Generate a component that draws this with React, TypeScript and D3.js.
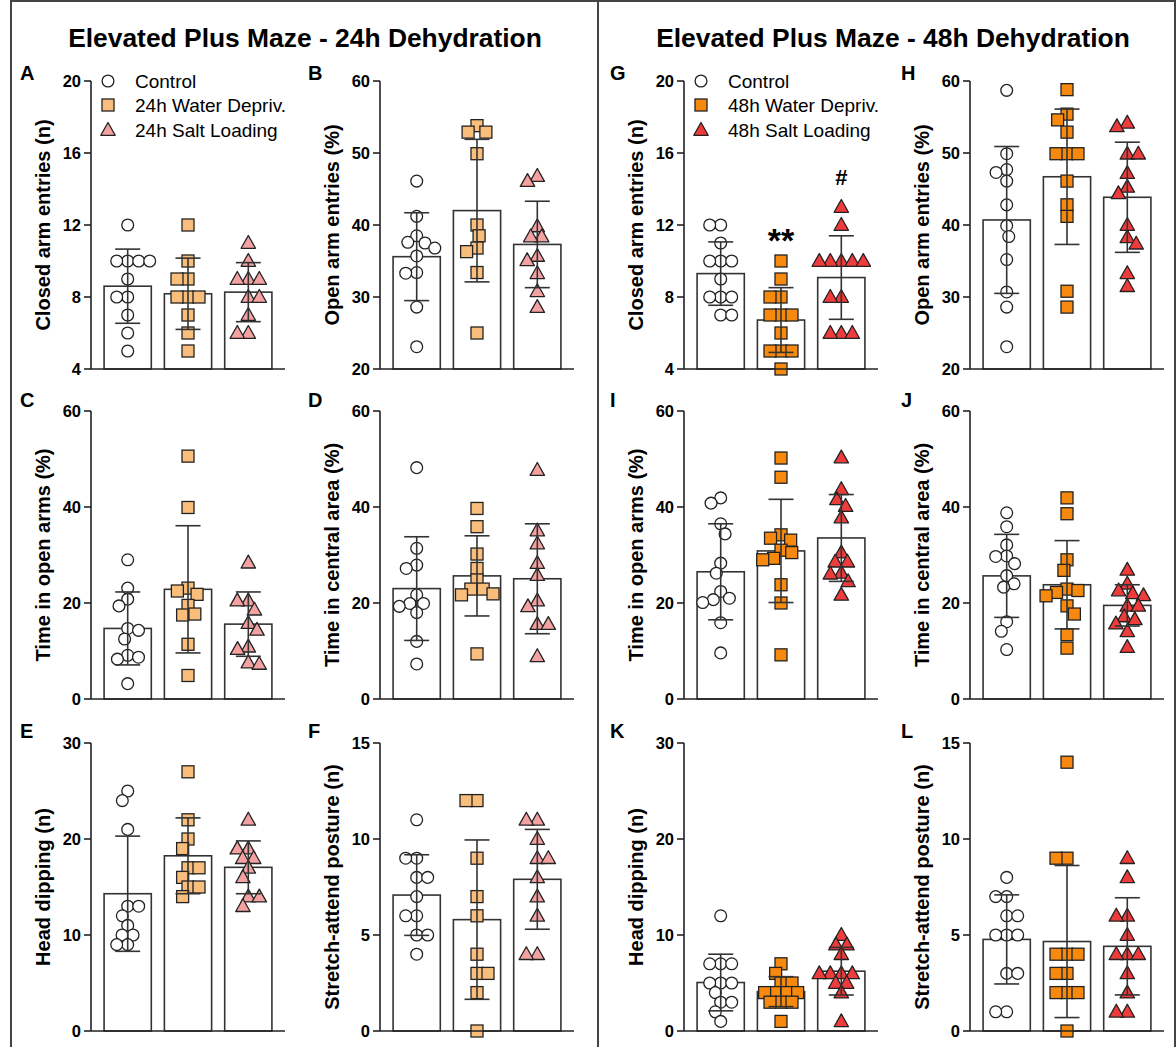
import React from "react";
import * as d3 from "d3";

const FONT = "'Liberation Sans', Arial, Helvetica, sans-serif";

const titles = ["Elevated Plus Maze - 24h Dehydration", "Elevated Plus Maze - 48h Dehydration"];
const legend24 = ["Control", "24h Water Depriv.", "24h Salt Loading"];
const legend48 = ["Control", "48h Water Depriv.", "48h Salt Loading"];
const colors24 = ["#ffffff", "#F9BE7C", "#F3A1A1"];
const colors48 = ["#ffffff", "#F7890F", "#EE3B3B"];

const yLabels = [
  "Closed arm entries (n)",
  "Open arm entries (%)",
  "Time in open arms (%)",
  "Time in central area (%)",
  "Head dipping (n)",
  "Stretch-attend posture (n)",
];

const ticksClosed = [4, 8, 12, 16, 20];
const ticksOpenEntries = [20, 30, 40, 50, 60];
const ticksPct = [0, 20, 40, 60];
const ticksHead = [0, 10, 20, 30];
const ticksStretch = [0, 5, 10, 15];

// ---- 24h ----
const A_points = [
  [12, 10, 10, 10, 10, 9, 8, 8, 7, 6, 5],
  [12, 10, 9, 9, 8, 8, 8, 7, 6, 5],
  [11, 10, 9, 9, 9, 8, 8, 7, 6, 6],
];
const A_mean = [8.6, 8.18, 8.27];
const A_sd = [2.06, 1.98, 1.64];

const B_points = [
  [46.1, 41.2, 38.5, 37.6, 37.5, 36.8, 35.7, 33.4, 33.3, 28.6, 23.1],
  [53.8, 52.9, 52.9, 49.9, 40.0, 38.5, 36.8, 36.3, 33.4, 25.0],
  [46.8, 46.1, 39.8, 38.4, 38.4, 35.7, 35.1, 33.3, 30.8, 28.6],
];
const B_mean = [35.6, 42.0, 37.3];
const B_sd = [6.1, 9.9, 6.0];

const C_points = [
  [29.0, 23.1, 20.8, 19.4, 14.7, 14.3, 12.5, 9.1, 8.7, 8.3, 3.2],
  [50.6, 39.9, 23.1, 22.5, 21.8, 19.5, 17.7, 17.5, 11.4, 4.9],
  [28.4, 20.5, 20.5, 18.6, 15.8, 14.4, 10.9, 10.4, 7.6, 7.3],
];
const C_mean = [14.7, 22.85, 15.6];
const C_sd = [7.6, 13.25, 6.7];

const D_points = [
  [48.2, 31.4, 27.9, 27.2, 21.7, 19.9, 19.9, 19.3, 18.0, 12.0, 7.3],
  [39.7, 35.9, 30.2, 27.2, 24.8, 22.9, 22.9, 21.9, 21.7, 9.4],
  [47.7, 35.1, 32.4, 28.3, 25.8, 20.5, 19.3, 15.6, 15.6, 8.9],
];
const D_mean = [23.0, 25.65, 25.05];
const D_sd = [10.8, 8.35, 11.45];

const E_points = [
  [25, 24, 21, 13, 13, 12, 11, 10, 10, 9, 9],
  [27, 22, 20, 19, 17, 17, 16, 15, 15, 14],
  [22, 19, 19, 18, 18, 17, 16, 14, 14, 13],
];
const E_mean = [14.3, 18.25, 17.05];
const E_sd = [6.0, 3.95, 2.75];

const F_points = [
  [11, 9, 9, 8, 8, 7, 6, 6, 5, 5, 4],
  [12, 12, 9, 7, 6, 4, 3, 3, 2, 0],
  [11, 11, 10, 9, 9, 8, 7, 6, 4, 4],
];
const F_mean = [7.08, 5.8, 7.9];
const F_sd = [2.1, 4.15, 2.6];

// ---- 48h ----
const G_points = [
  [12, 12, 11, 10, 10, 10, 9, 8, 8, 8, 7, 7],
  [10, 9, 8, 8, 7, 7, 7, 6, 5, 5, 5, 4],
  [13, 12, 10, 10, 10, 10, 10, 8, 8, 6, 6, 6],
];
const G_mean = [9.3, 6.72, 9.08];
const G_sd = [1.76, 1.8, 2.32];
const G_annot = ["", "**", "#"];
const G_annotAt = [0, 10.5, 14.2];

const H_points = [
  [58.7, 49.9, 47.7, 47.3, 46.1, 42.8, 39.9, 38.4, 35.2, 30.7, 28.6, 23.1],
  [58.8, 55.4, 54.6, 52.9, 49.9, 49.9, 49.9, 46.1, 42.8, 41.2, 30.8, 28.6],
  [54.2, 53.7, 49.9, 49.9, 47.2, 45.3, 44.4, 40.0, 38.3, 37.4, 33.3, 31.5],
];
const H_mean = [40.7, 46.7, 43.85];
const H_sd = [10.2, 9.4, 7.65];

const I_points = [
  [41.9, 40.8, 36.5, 34.4, 28.3, 26.2, 22.4, 21.0, 20.7, 20.1, 15.9, 9.6],
  [50.2, 46.2, 34.2, 33.5, 33.1, 31.0, 30.5, 29.3, 29.0, 23.8, 20.0, 9.2],
  [50.3, 43.7, 41.6, 40.2, 37.8, 30.5, 28.6, 28.6, 26.3, 26.1, 24.5, 21.7],
];
const I_mean = [26.5, 30.85, 33.55];
const I_sd = [10.0, 10.75, 9.05];

const J_points = [
  [38.8, 35.9, 32.1, 29.8, 29.7, 28.2, 25.7, 24.0, 23.3, 16.1, 14.1, 10.3],
  [41.9, 38.6, 29.0, 26.8, 22.9, 22.6, 22.2, 21.5, 19.4, 17.7, 13.4, 10.6],
  [26.9, 24.0, 22.6, 22.0, 21.6, 19.4, 19.4, 17.2, 16.6, 15.7, 14.1, 10.8],
];
const J_mean = [25.65, 23.8, 19.5];
const J_sd = [8.65, 9.2, 4.3];

const K_points = [
  [12, 7, 7, 7, 5, 5, 5, 4, 3, 3, 2, 1],
  [7, 6, 5, 5, 4, 4, 4, 4, 3, 3, 3, 1],
  [10, 9, 9, 8, 6, 6, 6, 6, 5, 5, 4, 1],
];
const K_mean = [5.05, 4.1, 6.23];
const K_sd = [2.95, 1.56, 2.48];

const L_points = [
  [8, 7, 7, 6, 6, 5, 5, 5, 3, 3, 1, 1],
  [14, 9, 9, 4, 4, 4, 3, 3, 2, 2, 2, 0],
  [9, 8, 6, 6, 5, 4, 4, 4, 3, 2, 1, 1],
];
const L_mean = [4.77, 4.66, 4.41];
const L_sd = [2.32, 3.96, 2.53];

// ---- layout ----
const ROWS = [
  { top: 81, bottom: 369, letterY: 80 },
  { top: 411, bottom: 699, letterY: 407 },
  { top: 743, bottom: 1031, letterY: 738 },
];
const COL_AXIS = [91, 380, 684, 970];
const COL_LETTER = [20, 308, 610, 901];
const AXIS_LEN = 194;
const SWARM_D = 11;

type Spec = {
  letter: string;
  col: number;
  row: number;
  ylabel: string;
  domain: [number, number];
  ticks: number[];
  points: number[][];
  means: number[];
  sds: number[];
  colors: string[];
  legend?: string[];
  annot?: string[];
  annotAt?: number[];
};

const specs: Spec[] = [
  { letter: "A", col: 0, row: 0, ylabel: yLabels[0], domain: [4, 20], ticks: ticksClosed, points: A_points, means: A_mean, sds: A_sd, colors: colors24, legend: legend24 },
  { letter: "B", col: 1, row: 0, ylabel: yLabels[1], domain: [20, 60], ticks: ticksOpenEntries, points: B_points, means: B_mean, sds: B_sd, colors: colors24 },
  { letter: "C", col: 0, row: 1, ylabel: yLabels[2], domain: [0, 60], ticks: ticksPct, points: C_points, means: C_mean, sds: C_sd, colors: colors24 },
  { letter: "D", col: 1, row: 1, ylabel: yLabels[3], domain: [0, 60], ticks: ticksPct, points: D_points, means: D_mean, sds: D_sd, colors: colors24 },
  { letter: "E", col: 0, row: 2, ylabel: yLabels[4], domain: [0, 30], ticks: ticksHead, points: E_points, means: E_mean, sds: E_sd, colors: colors24 },
  { letter: "F", col: 1, row: 2, ylabel: yLabels[5], domain: [0, 15], ticks: ticksStretch, points: F_points, means: F_mean, sds: F_sd, colors: colors24 },
  { letter: "G", col: 2, row: 0, ylabel: yLabels[0], domain: [4, 20], ticks: ticksClosed, points: G_points, means: G_mean, sds: G_sd, colors: colors48, legend: legend48, annot: G_annot, annotAt: G_annotAt },
  { letter: "H", col: 3, row: 0, ylabel: yLabels[1], domain: [20, 60], ticks: ticksOpenEntries, points: H_points, means: H_mean, sds: H_sd, colors: colors48 },
  { letter: "I", col: 2, row: 1, ylabel: yLabels[2], domain: [0, 60], ticks: ticksPct, points: I_points, means: I_mean, sds: I_sd, colors: colors48 },
  { letter: "J", col: 3, row: 1, ylabel: yLabels[3], domain: [0, 60], ticks: ticksPct, points: J_points, means: J_mean, sds: J_sd, colors: colors48 },
  { letter: "K", col: 2, row: 2, ylabel: yLabels[4], domain: [0, 30], ticks: ticksHead, points: K_points, means: K_mean, sds: K_sd, colors: colors48 },
  { letter: "L", col: 3, row: 2, ylabel: yLabels[5], domain: [0, 15], ticks: ticksStretch, points: L_points, means: L_mean, sds: L_sd, colors: colors48 },
];

function swarm(ys: number[], D: number): number[] {
  const placed: { x: number; y: number }[] = [];
  const out: number[] = [];
  let flip = -1;
  for (const yy of ys) {
    const intervals: [number, number][] = [];
    for (const p of placed) {
      const dy = Math.abs(p.y - yy);
      if (dy < D) {
        const h = Math.sqrt(D * D - dy * dy);
        intervals.push([p.x - h, p.x + h]);
      }
    }
    const cands = [0];
    intervals.forEach(([a, b]) => cands.push(a, b));
    const valid = cands.filter((c) => intervals.every(([a, b]) => c <= a + 1e-6 || c >= b - 1e-6));
    valid.sort((a, b) => Math.abs(a) - Math.abs(b));
    let best = valid[0];
    const ties = valid.filter((v) => Math.abs(Math.abs(v) - Math.abs(best)) < 0.5 && v !== best);
    if (ties.length > 0 && best !== 0) {
      const alt = [best, ...ties].find((v) => Math.sign(v) === flip);
      if (alt !== undefined) best = alt;
      flip = -flip;
    }
    placed.push({ x: best, y: yy });
    out.push(best);
  }
  return out;
}

const STROKE = "#222";

function Marker({ kind, x, y, fill }: { kind: number; x: number; y: number; fill: string }) {
  if (kind === 0) return <circle cx={x} cy={y} r={5.9} fill={fill} stroke={STROKE} strokeWidth={1.3} />;
  if (kind === 1) return <rect x={x - 6} y={y - 6} width={12} height={12} fill={fill} stroke={STROKE} strokeWidth={1.3} />;
  const tri = d3.line()([
    [x, y - 7.5],
    [x + 7.2, y + 5.3],
    [x - 7.2, y + 5.3],
  ]) + "Z";
  return <path d={tri} fill={fill} stroke={STROKE} strokeWidth={1.3} strokeLinejoin="round" />;
}

function Panel({ s }: { s: Spec }) {
  const row = ROWS[s.row];
  const ax = COL_AXIS[s.col];
  const y = d3.scaleLinear().domain(s.domain).range([row.bottom, row.top]);
  const x = d3.scaleBand<number>().domain([0, 1, 2]).range([ax, ax + AXIS_LEN]).paddingInner(0.217).paddingOuter(0.217);
  const bw = x.bandwidth();
  const midY = (row.top + row.bottom) / 2;
  return (
    <g>
      <text x={COL_LETTER[s.col]} y={row.letterY} fontSize={20} fontWeight="bold" fontFamily={FONT} fill="#000">
        {s.letter}
      </text>
      {s.means.map((m, i) => (
        <rect key={"b" + i} x={x(i)!} y={y(m)} width={bw} height={y(s.domain[0]) - y(m)} fill="#fff" stroke="#333" strokeWidth={1.6} />
      ))}
      {s.points.map((vals, i) => {
        const ys = vals.map((v) => y(v));
        const xs = swarm(ys, SWARM_D);
        const cx = x(i)! + bw / 2;
        return (
          <g key={"p" + i}>
            {vals.map((v, j) => (
              <Marker key={j} kind={i} x={cx + xs[j]} y={ys[j]} fill={s.colors[i]} />
            ))}
          </g>
        );
      })}
      {s.means.map((m, i) => {
        const cx = x(i)! + bw / 2;
        const top = y(m + s.sds[i]);
        const bot = y(Math.max(s.domain[0], m - s.sds[i]));
        return (
          <g key={"e" + i} stroke="#333" strokeWidth={1.6}>
            <line x1={cx} x2={cx} y1={top} y2={bot} />
            <line x1={cx - 12.5} x2={cx + 12.5} y1={top} y2={top} />
            <line x1={cx - 12.5} x2={cx + 12.5} y1={bot} y2={bot} />
          </g>
        );
      })}
      <line x1={ax} x2={ax} y1={row.top} y2={row.bottom} stroke={STROKE} strokeWidth={1.6} />
      <line x1={ax} x2={ax + AXIS_LEN} y1={row.bottom} y2={row.bottom} stroke={STROKE} strokeWidth={1.6} />
      {s.ticks.map((t) => (
        <g key={"t" + t}>
          <line x1={ax - 7} x2={ax} y1={y(t)} y2={y(t)} stroke={STROKE} strokeWidth={1.6} />
          <text x={ax - 10} y={y(t)} dy="0.36em" textAnchor="end" fontSize={16.5} fontWeight="bold" fontFamily={FONT} fill="#000">
            {t}
          </text>
        </g>
      ))}
      <text
        transform={`translate(${ax - 48},${midY}) rotate(-90)`}
        textAnchor="middle"
        dy="0.35em"
        fontSize={20}
        fontWeight="bold"
        fontFamily={FONT}
        fill="#000"
      >
        {s.ylabel}
      </text>
      {s.annot &&
        s.annot.map((a, i) =>
          a ? (
            <text
              key={"a" + i}
              x={x(i)! + bw / 2}
              y={y(s.annotAt![i])}
              textAnchor="middle"
              fontSize={a === "**" ? 34 : 22}
              fontWeight="bold"
              fontFamily={FONT}
              fill="#000"
            >
              {a}
            </text>
          ) : null
        )}
      {s.legend &&
        s.legend.map((l, i) => {
          const ly = [81, 105, 130][i];
          return (
            <g key={"l" + i}>
              <Marker kind={i} x={ax + 17} y={ly} fill={s.colors[i]} />
              <text x={ax + 44} y={ly} dy="0.36em" fontSize={19} fontFamily={FONT} fill="#000">
                {l}
              </text>
            </g>
          );
        })}
    </g>
  );
}

export default function App() {
  return (
    <svg
      width={1176}
      height={1047}
      viewBox="0 0 1176 1047"
      style={{ position: "absolute", left: 0, top: 0, background: "#fff" }}
    >
      <rect x={0} y={0} width={1176} height={1047} fill="#fff" />
      <g stroke="#444" strokeWidth={2} fill="none">
        <line x1={11} x2={11} y1={0} y2={1047} />
        <line x1={598} x2={598} y1={0} y2={1047} />
        <line x1={1175} x2={1175} y1={0} y2={1047} />
        <line x1={11} x2={1176} y1={1} y2={1} />
      </g>
      <text x={305} y={47} textAnchor="middle" fontSize={26.4} fontWeight="bold" fontFamily={FONT} fill="#000">
        {titles[0]}
      </text>
      <text x={893} y={47} textAnchor="middle" fontSize={26.4} fontWeight="bold" fontFamily={FONT} fill="#000">
        {titles[1]}
      </text>
      {specs.map((s) => (
        <Panel key={s.letter} s={s} />
      ))}
    </svg>
  );
}
